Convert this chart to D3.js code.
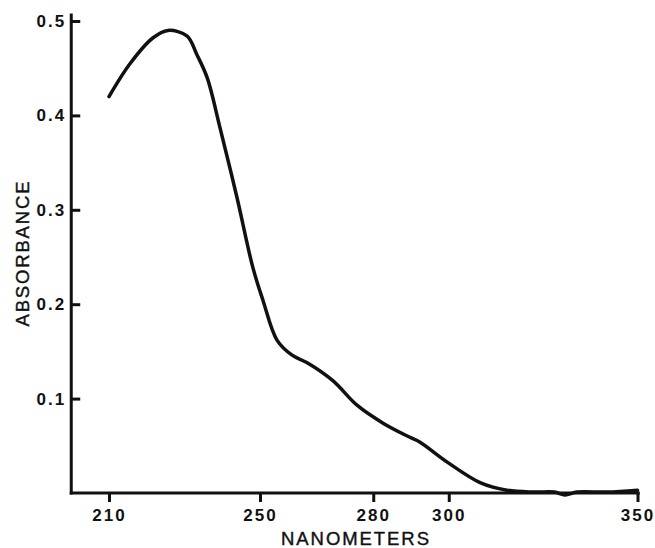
<!DOCTYPE html>
<html>
<head>
    <script src="https://d3js.org/d3.v7.min.js"></script>
    <style>
        body {margin: 0; background: #fff; font-family: "Liberation Sans", Arial, Helvetica, sans-serif;}
        .tick text {font-size: 17px; font-weight: bold; letter-spacing: 2px; fill: #111;}
        .tick line {stroke: #111; stroke-width: 3px;}
        .axisline {stroke: #111; stroke-width: 3px;}
        .spectrum {fill: none; stroke: #111; stroke-width: 3.5px; stroke-linejoin: round; stroke-linecap: round;}
        .title {font-size: 18.5px; fill: #111; stroke: #111; stroke-width: 0.4px;}
    </style>
</head>
<body>
    <svg width="655" height="548"></svg>
    <script>
        // Absorption spectrum
        let wavelength = [210, 215.6, 221.6, 225.6, 230.7, 233.2, 236, 239.4, 243.9, 248.1, 250.8, 254.5,
                          258.5, 262.5, 269.3, 275.7, 282.6, 289.7, 292.3, 299.5, 308.3, 315.4, 322.3,
                          328, 330.8, 334, 342, 350];
        let absorbance = [0.420, 0.455, 0.482, 0.490, 0.484, 0.465, 0.440, 0.387, 0.313, 0.239, 0.204, 0.162,
                          0.146, 0.138, 0.119, 0.093, 0.074, 0.059, 0.054, 0.033, 0.011, 0.003, 0.001,
                          0.001, -0.002, 0.001, 0.001, 0.003];
        let xTicks = [210, 250, 280, 300, 350];
        let yTicks = [0.1, 0.2, 0.3, 0.4, 0.5];

        let svg = d3.select("svg");
        let x = d3.scaleLinear().domain([200, 350]).range([71.25, 637.5]);
        let y = d3.scaleLinear().domain([0, 0.5]).range([493, 21]);

        // y axis: ticks point inward, labels on the left
        let yAxis = d3.axisLeft(y).tickValues(yTicks).tickSize(-9).tickPadding(5)
            .tickFormat(d3.format(".1f"));
        svg.append("g").attr("transform", "translate(" + x(200) + ",0)").call(yAxis)
            .call(g => g.select(".domain").remove());

        // x axis: ticks point down
        let xAxis = d3.axisBottom(x).tickValues(xTicks).tickSize(9).tickPadding(7);
        svg.append("g").attr("transform", "translate(0," + y(0) + ")").call(xAxis)
            .call(g => g.select(".domain").remove());

        // axis lines
        svg.append("line").attr("class", "axisline")
            .attr("x1", x(200)).attr("x2", x(200))
            .attr("y1", y(0) + 1.5).attr("y2", y(0.508));
        svg.append("line").attr("class", "axisline")
            .attr("x1", x(200) - 1.5).attr("x2", x(350.6))
            .attr("y1", y(0)).attr("y2", y(0));

        let data = wavelength.map((w, i) => ({w: w, a: absorbance[i]}));
        let line = d3.line().x(d => x(d.w)).y(d => y(d.a)).curve(d3.curveCatmullRom);
        svg.append("path").datum(data).attr("class", "spectrum").attr("d", line);

        // axis titles
        svg.append("text").attr("class", "title")
            .attr("x", 355).attr("y", 545)
            .attr("text-anchor", "middle")
            .attr("textLength", 148).attr("lengthAdjust", "spacing")
            .text("NANOMETERS");
        svg.append("text").attr("class", "title")
            .attr("transform", "translate(29,254) rotate(-90)")
            .attr("text-anchor", "middle")
            .attr("textLength", 145).attr("lengthAdjust", "spacing")
            .text("ABSORBANCE");
    </script>
</body>
</html>
